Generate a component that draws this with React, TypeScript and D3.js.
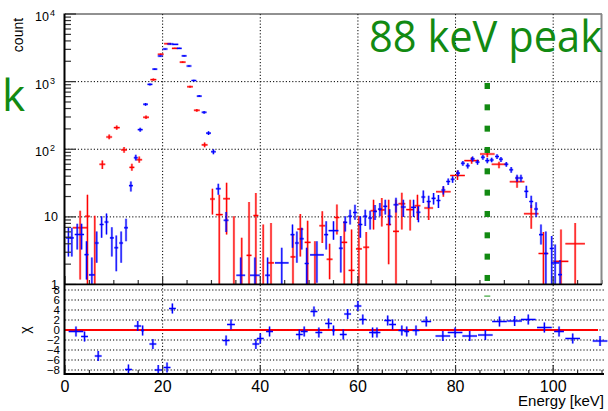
import React from 'react';
import * as d3 from 'd3';

// [energy keV, count, half bin width keV, error-bar low, error-bar high]
const redPoints: number[][] = [
  [3.1, 6.9, 1.5, 1.19, 12.3],
  [4.6, 10.2, 0.5, 0.5, 21.3],
  [6.1, 0.9, 0.3, 0.5, 10.4],
  [7.65, 60, 0.6, 51, 68],
  [9.05, 152, 0.6, 140, 165],
  [10.6, 209, 0.6, 195, 224],
  [12.1, 98, 0.6, 89, 108],
  [13.7, 54, 0.5, 48, 61],
  [15.2, 70, 0.6, 63, 78],
  [16.6, 297, 0.6, 280, 315],
  [18.1, 1070, 0.6, 1030, 1110],
  [19.6, 2540, 0.6, 2480, 2600],
  [21.0, 3640, 0.7, 3570, 3710],
  [22.5, 3100, 0.6, 3030, 3170],
  [24.1, 1940, 0.6, 1890, 1990],
  [25.6, 840, 0.6, 810, 870],
  [27.0, 377, 0.6, 360, 395],
  [28.6, 116, 0.6, 107, 126],
  [30.2, 18.4, 0.5, 10.8, 26],
  [31.6, 10.8, 0.7, 0.5, 21.3],
  [33.1, 18.5, 0.7, 5.5, 32],
  [34.6, 0.9, 0.4, 0.5, 10.2],
  [36.2, 0.9, 0.4, 0.5, 4.9],
  [37.7, 2.7, 0.5, 0.5, 16.6],
  [39.1, 10.5, 0.5, 0.5, 22.5],
  [40.6, 0.9, 0.4, 0.5, 7.7],
  [42.2, 2.09, 0.6, 0.5, 8.1],
  [46.7, 2.56, 0.5, 0.5, 5.5],
  [48.2, 6.6, 0.6, 2.6, 11],
  [49.7, 4.2, 0.6, 0.5, 8.8],
  [51.2, 0.9, 0.4, 0.5, 4.35],
  [52.7, 7.4, 0.6, 4.1, 12.1],
  [54.2, 2.36, 0.6, 1.2, 4],
  [55.7, 9.8, 0.5, 5.5, 15.2],
  [57.2, 4.2, 0.6, 0.5, 8.6],
  [58.7, 1.62, 0.6, 0.5, 6.5],
  [60.2, 3.36, 0.6, 0.5, 10.2],
  [61.7, 3.55, 0.6, 0.5, 6],
  [63.2, 12.3, 0.6, 6.5, 17.9],
  [64.9, 12.7, 0.6, 7.2, 19],
  [66.3, 7.7, 0.5, 2, 17.9],
  [67.8, 6.1, 0.6, 0.5, 17.9],
  [69.0, 15.6, 0.7, 6.5, 22.7],
  [70.7, 12.8, 0.8, 6.3, 17.9],
  [72.2, 14.6, 0.6, 9, 21.3],
  [74.5, 13.5, 0.9, 9, 16.9],
  [77.5, 23.5, 1.5, 19.8, 28],
  [80.4, 41, 1.5, 35, 48.5],
  [83.3, 68, 1.5, 61, 76],
  [86.5, 85, 1.5, 76, 92.5],
  [88.9, 60, 1.5, 52.5, 65.5],
  [92.6, 33, 1.5, 27, 39.6],
  [95.5, 11.1, 1.5, 6.7, 15],
  [98.0, 2.87, 1.0, 0.5, 6],
  [101.6, 2.2, 1.5, 0.5, 6.5],
  [104.5, 4.0, 2.0, 0.5, 8.1],
];

const bluePoints: number[][] = [
  [0.7, 4.9, 0.5, 2.6, 6.9],
  [1.4, 4.9, 0.4, 2.6, 6.9],
  [2.5, 5.5, 0.5, 3.3, 7.9],
  [3.4, 5.5, 0.5, 3.3, 7.9],
  [4.4, 2.77, 0.4, 1.19, 4.35],
  [5.5, 1.39, 0.6, 0.5, 2.5],
  [6.5, 4.1, 0.4, 2.09, 6.1],
  [7.5, 7.7, 0.4, 4.9, 10.2],
  [8.5, 8.4, 0.4, 5.5, 11.2],
  [9.6, 4.9, 0.4, 2.6, 7],
  [10.5, 3.5, 0.4, 1.57, 5.3],
  [11.5, 4.1, 0.4, 2.09, 6.1],
  [12.5, 6.9, 0.4, 4.35, 9.4],
  [13.5, 29, 0.4, 23.8, 33.4],
  [14.5, 75, 0.4, 68, 83],
  [15.4, 195, 0.5, 182, 208],
  [16.5, 462, 0.5, 440, 484],
  [17.4, 910, 0.5, 880, 940],
  [18.4, 1530, 0.5, 1490, 1570],
  [19.5, 2390, 0.5, 2340, 2440],
  [20.5, 3030, 0.5, 2970, 3090],
  [21.6, 3600, 0.6, 3540, 3660],
  [22.6, 3550, 0.6, 3490, 3610],
  [23.4, 3100, 0.5, 3040, 3160],
  [24.4, 2400, 0.5, 2350, 2450],
  [25.4, 1700, 0.5, 1660, 1740],
  [26.4, 1040, 0.5, 1010, 1070],
  [27.5, 611, 0.5, 590, 632],
  [28.5, 352, 0.5, 336, 368],
  [29.4, 173, 0.5, 162, 184],
  [30.4, 92, 0.5, 84, 100],
  [31.4, 26, 0.5, 21.3, 30.9],
  [33.0, 8.9, 0.5, 6, 11.8],
  [36.0, 1.37, 0.9, 0.5, 2.5],
  [38.9, 1.37, 1.0, 0.5, 2.5],
  [41.5, 1.37, 0.5, 0.5, 2.5],
  [44.4, 2.09, 1.4, 0.5, 3.5],
  [46.6, 5.47, 0.4, 3.5, 7.7],
  [47.5, 4.1, 0.4, 2.09, 6.1],
  [48.5, 4.76, 0.4, 3.3, 6.9],
  [49.5, 2.04, 0.4, 0.5, 3.5],
  [51.6, 2.74, 1.4, 1.06, 4.35],
  [53.5, 5.47, 0.4, 3.3, 8.6],
  [55.0, 6.26, 1.0, 4.6, 8.6],
  [56.5, 3.43, 0.4, 1.5, 5.2],
  [57.4, 8.3, 0.4, 6.1, 10.2],
  [58.4, 10.2, 0.4, 7.7, 12.7],
  [59.4, 11.6, 0.4, 9.1, 15.1],
  [60.5, 7.7, 0.4, 4.9, 10.2],
  [61.5, 10.2, 0.4, 7.3, 12.7],
  [62.5, 9.6, 0.4, 6.5, 12.3],
  [63.5, 12, 0.4, 9, 15],
  [64.5, 13, 0.4, 10.2, 16],
  [65.6, 14.3, 0.4, 10.8, 17.9],
  [66.5, 10.2, 0.4, 7.5, 13],
  [67.8, 15.1, 0.5, 11.6, 19.2],
  [69.3, 14, 0.5, 10, 17.9],
  [71.4, 13.8, 0.5, 10, 17.9],
  [72.4, 11.7, 0.4, 8.3, 14.3],
  [73.4, 19.7, 0.4, 16, 24.6],
  [74.5, 16.9, 0.4, 13.5, 20.5],
  [75.5, 18.8, 0.4, 15.2, 22.5],
  [76.5, 17.5, 0.4, 13.5, 21],
  [77.5, 25, 0.4, 21.5, 28.5],
  [78.5, 33.4, 0.4, 29.5, 37],
  [79.4, 36, 0.4, 32, 40],
  [80.5, 44.4, 0.4, 40, 49],
  [81.5, 62, 0.4, 57, 67],
  [82.5, 57, 0.4, 52, 62],
  [83.5, 72, 0.4, 66, 78],
  [84.5, 64.5, 0.4, 59, 70],
  [85.6, 76, 0.4, 70, 82],
  [86.5, 68, 0.4, 62, 74],
  [87.4, 69.5, 0.4, 64, 75],
  [88.5, 78, 0.4, 72, 84],
  [89.3, 71, 0.4, 65, 77],
  [90.4, 60, 0.4, 55, 65],
  [91.4, 49.7, 0.4, 45, 54.5],
  [92.6, 37.5, 0.4, 33, 42],
  [93.4, 37.5, 0.4, 33, 42],
  [94.5, 23.8, 0.4, 19, 28.9],
  [95.5, 16.9, 0.4, 13.5, 20.5],
  [96.5, 13.1, 0.4, 10, 16.5],
  [97.5, 5.47, 0.4, 3.9, 7.7],
  [98.5, 2.87, 0.4, 0.5, 6.1],
  [99.7, 3.4, 0.4, 0.5, 5.2],
  [100.4, 2.09, 0.8, 0.5, 3.9],
  [101.4, 1.4, 0.4, 0.5, 2.3],
];

// [energy keV, chi, half bin width keV]
const residuals: number[][] = [
  [2.25, -0.3, 1.5], [4.0, -1.3, 0.7], [6.8, -5.2, 0.7], [13.0, -7.9, 0.7],
  [14.9, 0.8, 0.7], [15.9, -0.1, 0.3], [18.0, -2.8, 0.7], [19.1, -8, 0.7],
  [20.9, -7.5, 0.7], [22.0, 4.3, 0.7], [33.0, -2.1, 0.7], [34.0, 1.1, 0.8],
  [39.1, -2.8, 0.7], [40.0, -1.7, 0.7], [41.9, -0.3, 0.7], [48.0, -0.9, 0.7],
  [49.0, -0.3, 0.7], [51.0, 3.7, 0.7], [52.0, -0.5, 0.7], [54.0, 1.3, 0.7],
  [55.0, -0.1, 0.3], [57.0, -0.9, 0.7], [57.9, 3.2, 0.7], [60.0, 4.8, 0.7],
  [61.0, 2.1, 0.7], [63.0, -0.5, 0.7], [63.9, -0.5, 0.7], [66.1, 1.9, 0.7],
  [67.1, 1.1, 0.7], [69.0, -0.1, 0.7], [70.0, -0.3, 0.5], [71.9, -0.1, 0.7],
  [74.0, 1.7, 1.0], [77.4, -1.2, 1.5], [79.9, -0.5, 1.5], [82.9, -1.2, 1.5],
  [86.1, -1.0, 1.5], [89.0, 1.7, 1.5], [92.1, 1.8, 1.5], [94.9, 2.1, 1.5],
  [98.2, 0.5, 1.5], [101.2, -0.3, 1.0], [104.0, -1.7, 1.5], [109.6, -2.2, 1.5],
];

const xTickValues = [0, 20, 40, 60, 80, 100];
const yDecades = [1, 10, 100, 1000, 10000];
const chiTicks = [-8, -6, -4, -2, 0, 2, 4, 6, 8];
const peakEnergy = 86.5;
const peakLabel = '88 keV peak';

const FONT = 'Liberation Sans, Arial, Helvetica, sans-serif';
const GREEN = '#128a12';

export default function App() {
  const x = d3.scaleLinear().domain([0, 110]).range([65, 602]);
  const y = d3.scaleLog().domain([1, 1e4]).range([284.5, 14]);
  const yc = d3.scaleLinear().domain([-8.8, 9]).range([374, 285]);

  const xMinor = d3.range(0, 111, 5);
  const yMinor: number[] = [];
  for (let d = 1; d < 1e4; d *= 10) for (let m = 2; m <= 9; m++) yMinor.push(d * m);

  const crosses = (pts: number[][], color: string) =>
    pts.map((p, i) => {
      const [e, v, hw, lo, hi] = p;
      const cx = x(e), cy = y(v);
      return (
        <g key={i} stroke={color}>
          <line x1={cx} x2={cx} y1={y(lo)} y2={y(hi)} strokeWidth={2.4} strokeOpacity={0.35} />
          <line x1={x(e - hw)} x2={x(e + hw)} y1={cy} y2={cy} strokeWidth={2.4} strokeOpacity={0.35} />
          <line x1={cx} x2={cx} y1={y(lo)} y2={y(hi)} strokeWidth={1.1} />
          <line x1={x(e - hw)} x2={x(e + hw)} y1={cy} y2={cy} strokeWidth={1.1} />
        </g>
      );
    });

  const superscript = (d: number) => Math.round(Math.log10(d));

  const greenDots: number[] = d3.range(0, 10).map((k) => 86 + k * 21.33);

  return (
    <svg width={608} height={411} style={{ position: 'absolute', left: 0, top: 0, background: '#fff' }} fontFamily={FONT}>
      <defs>
        <clipPath id="upClip"><rect x={65} y={14} width={537} height={270.5} /></clipPath>
        <clipPath id="loClip"><rect x={65} y={285} width={543} height={89} /></clipPath>
      </defs>
      <rect x={0} y={0} width={608} height={411} fill="#fff" />

      {/* upper grid */}
      <g stroke="#000" strokeWidth={1} strokeDasharray="1.2,2">
        {xTickValues.filter((t) => t > 0).map((t) => (
          <line key={'gx' + t} x1={x(t)} x2={x(t)} y1={14} y2={284} />
        ))}
        {yDecades.filter((d) => d > 1 && d < 1e4).map((d) => (
          <line key={'gy' + d} x1={65} x2={602} y1={y(d)} y2={y(d)} />
        ))}
      </g>

      {/* upper data */}
      <g clipPath="url(#upClip)">
        {crosses(redPoints, '#ff0000')}
        {crosses(bluePoints, '#0000ff')}
      </g>

      {/* upper ticks */}
      <g stroke="#333" strokeWidth={1.2}>
        {yMinor.map((v, i) => (
          <line key={'ym' + i} x1={65} x2={71} y1={y(v)} y2={y(v)} />
        ))}
        {yDecades.map((d) => (
          <line key={'yM' + d} x1={65} x2={76} y1={y(d)} y2={y(d)} />
        ))}
        {xMinor.map((t) => (
          <line key={'xm' + t} x1={x(t)} x2={x(t)} y1={284} y2={t % 20 === 0 ? 276 : 280} />
        ))}
      </g>

      {/* upper frame */}
      <line x1={65} x2={602} y1={14} y2={14} stroke="#222" strokeWidth={1} />
      <line x1={601.5} x2={601.5} y1={14} y2={284.5} stroke="#888" strokeWidth={2} />
      <line x1={64.5} x2={64.5} y1={13.5} y2={285} stroke="#000" strokeWidth={2} />
      <line x1={64} x2={602} y1={284.5} y2={284.5} stroke="#000" strokeWidth={2} />

      {/* upper y labels */}
      <g fontSize={12.5} fill="#000">
        {yDecades.map((d) => {
          const e = superscript(d);
          const ty = y(d);
          if (e >= 2) {
            return (
              <g key={'yl' + d}>
                <text x={49} y={ty + 7} textAnchor="end">10</text>
                <text x={50} y={ty + 2} fontSize={9}>{e}</text>
              </g>
            );
          }
          return (
            <text key={'yl' + d} x={58} y={ty + 4.5} textAnchor="end">{e === 1 ? '10' : '1'}</text>
          );
        })}
      </g>
      <text transform="translate(23,35) rotate(-90)" textAnchor="middle" fontSize={14}>count</text>

      {/* green peak marker */}
      <g fill={GREEN}>
        {greenDots.map((gy, i) => (
          <rect key={'gd' + i} x={x(peakEnergy) - 2.7} y={gy - 3} width={5.4} height={6} />
        ))}
      </g>

      {/* lower panel */}
      <rect x={65} y={285.5} width={543} height={88} fill="#fff" />
      <g stroke="#000" strokeWidth={1} strokeDasharray="1.2,2">
        {chiTicks.map((t) => (
          <line key={'cg' + t} x1={65} x2={604} y1={yc(t)} y2={yc(t)} />
        ))}
        {xTickValues.filter((t) => t > 0).map((t) => (
          <line key={'cgx' + t} x1={x(t)} x2={x(t)} y1={285} y2={374} />
        ))}
      </g>
      <rect x={x(peakEnergy) - 3} y={295.5} width={6} height={1.2} fill="#3aa53a" />
      <line x1={65} x2={598} y1={yc(0)} y2={yc(0)} stroke="#ff0000" strokeWidth={2} />
      <g clipPath="url(#loClip)" stroke="#0000ff">
        {residuals.map((r, i) => {
          const [e, c, hw] = r;
          return (
            <g key={'r' + i}>
              <line x1={x(e)} x2={x(e)} y1={yc(c - 1)} y2={yc(c + 1)} strokeWidth={2.4} strokeOpacity={0.3} />
              <line x1={x(e - hw)} x2={x(e + hw)} y1={yc(c)} y2={yc(c)} strokeWidth={2.4} strokeOpacity={0.3} />
              <line x1={x(e)} x2={x(e)} y1={yc(c - 1)} y2={yc(c + 1)} strokeWidth={1.2} />
              <line x1={x(e - hw)} x2={x(e + hw)} y1={yc(c)} y2={yc(c)} strokeWidth={1.2} />
            </g>
          );
        })}
      </g>
      <g stroke="#333" strokeWidth={1.2}>
        {xMinor.map((t) => (
          <line key={'lxm' + t} x1={x(t)} x2={x(t)} y1={374} y2={t % 20 === 0 ? 365 : 370} />
        ))}
      </g>
      <line x1={64.5} x2={64.5} y1={285} y2={375} stroke="#000" strokeWidth={2} />
      <line x1={64} x2={604} y1={374} y2={374} stroke="#000" strokeWidth={2} />

      <g fontSize={11.5} fill="#000">
        {chiTicks.map((t) => (
          <text key={'cl' + t} x={60} y={yc(t) + 4.2} textAnchor="end">{t < 0 ? '\u2212' + Math.abs(t) : String(t)}</text>
        ))}
      </g>
      <text transform="translate(30,330) rotate(-90)" textAnchor="middle" fontSize={14}>χ</text>

      <g fontSize={16} fill="#000">
        {xTickValues.map((t) => (
          <text key={'xl' + t} x={x(t)} y={392} textAnchor="middle">{t}</text>
        ))}
      </g>
      <text x={604} y={406} textAnchor="end" fontSize={15}>Energy [keV]</text>

      {/* green annotations */}
      <text x={369} y={52} fontSize={44} fill={GREEN} fontFamily="Open Sans, Lato, sans-serif" textLength={233} lengthAdjust="spacingAndGlyphs">{peakLabel}</text>
      <text x={2} y={110.5} fontSize={44} fill={GREEN} fontFamily="Open Sans, Lato, sans-serif">k</text>
    </svg>
  );
}
